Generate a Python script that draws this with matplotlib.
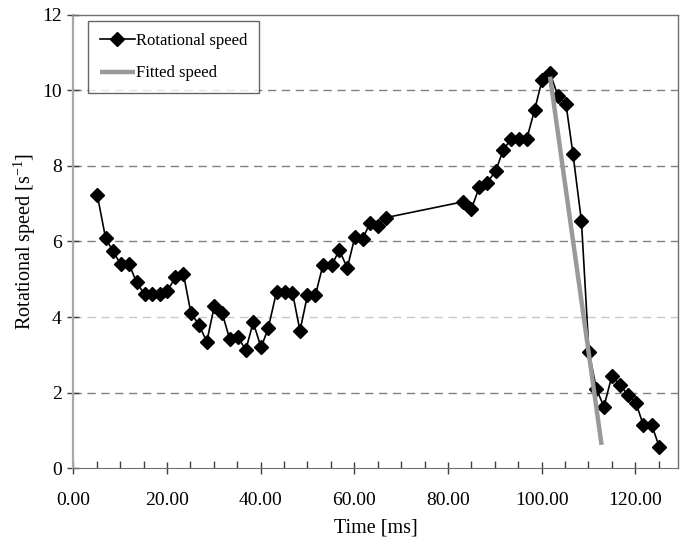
import matplotlib
matplotlib.use("Agg")
import matplotlib.pyplot as plt
from matplotlib.ticker import MultipleLocator, FormatStrFormatter

plt.rcParams['font.family'] = ['Liberation Serif', 'DejaVu Serif']
plt.rcParams['mathtext.fontset'] = 'custom'
plt.rcParams['mathtext.rm'] = 'Liberation Serif'

time_ms = [5.1, 6.9, 8.4, 10.1, 11.9, 13.5, 15.2, 16.9, 18.5, 20.1,
           21.8, 23.5, 25.1, 26.8, 28.5, 30.1, 31.8, 33.4, 35.2, 36.8,
           38.4, 40.1, 41.6, 43.4, 45.2, 46.8, 48.4, 50.0, 51.7, 53.3,
           55.2, 56.8, 58.5, 60.1, 61.8, 63.3, 65.0, 66.7, 83.2, 85.0,
           86.7, 88.4, 90.2, 91.8, 93.4, 95.1, 96.8, 98.5, 100.1, 101.8,
           103.5, 105.2, 106.7, 108.5, 110.1, 111.7, 113.3, 115.0, 116.7, 118.5,
           120.1, 121.7, 123.5, 125.1]
speed = [7.24, 6.08, 5.76, 5.40, 5.40, 4.92, 4.60, 4.60, 4.60, 4.70,
         5.05, 5.15, 4.11, 3.80, 3.35, 4.29, 4.10, 3.41, 3.48, 3.12,
         3.86, 3.20, 3.70, 4.67, 4.66, 4.64, 3.64, 4.58, 4.58, 5.38,
         5.38, 5.77, 5.30, 6.11, 6.07, 6.48, 6.40, 6.63, 7.05, 6.86,
         7.44, 7.56, 7.87, 8.42, 8.70, 8.70, 8.70, 9.48, 10.27, 10.45,
         9.85, 9.63, 8.31, 6.54, 3.08, 2.10, 1.63, 2.44, 2.20, 1.94,
         1.74, 1.15, 1.15, 0.57]

# fitted deceleration line
fit_time = [101.8, 112.8]
fit_speed = [10.36, 0.62]

fig = plt.figure(figsize=(6.88, 5.38), dpi=100)
ax = fig.add_axes([0.1066, 0.1296, 0.8794, 0.8431])

ax.set_xlim(0, 129.2)
ax.set_ylim(0, 12)

# dashed horizontal gridlines
for yv in [2, 4, 6, 8, 10]:
    col = '#c8c8c8' if yv == 4 else '#808080'
    ax.axhline(yv, color=col, linestyle=(0, (6, 4)), linewidth=1.0, zorder=0)

ax.plot(time_ms, speed, color='black', linewidth=1.2, marker='D',
        markersize=7, markerfacecolor='black', markeredgecolor='black',
        label='Rotational speed', zorder=3)
ax.plot(fit_time, fit_speed, color='#999999', linewidth=3.2,
        solid_capstyle='butt', label='Fitted speed', zorder=4)

ax.xaxis.set_major_locator(MultipleLocator(20))
ax.xaxis.set_minor_locator(MultipleLocator(5))
ax.xaxis.set_major_formatter(FormatStrFormatter('%.2f'))
ax.yaxis.set_major_locator(MultipleLocator(2))

ax.tick_params(axis='x', which='major', direction='inout', length=9,
               width=1, color='#404040', labelsize=14, pad=12.5)
ax.tick_params(axis='x', which='minor', direction='in', length=5,
               width=1, color='#404040')
ax.tick_params(axis='y', which='major', direction='inout', length=9,
               width=1, color='#404040', labelsize=14, pad=4)

ax.spines['left'].set_color('#a8a8a8')
ax.spines['left'].set_linewidth(1.6)
ax.spines['bottom'].set_color('#707070')
for s in ['top', 'right']:
    ax.spines[s].set_color('#707070')
    ax.spines[s].set_linewidth(1.0)

ax.set_xlabel('Time [ms]', fontsize=14.5, labelpad=7)
ax.set_ylabel('Rotational speed [s$^{\\mathregular{-1}}$]', fontsize=14.5,
              labelpad=3)

leg = ax.legend(loc='upper left', bbox_to_anchor=(0.024, 0.986),
                borderaxespad=0, fontsize=12, frameon=True, fancybox=False,
                handlelength=2.1, handletextpad=0.1, labelspacing=1.0,
                borderpad=0.7)
leg.get_frame().set_edgecolor('#404040')
leg.get_frame().set_linewidth(1.0)

fig.savefig('out.png', dpi=100)
